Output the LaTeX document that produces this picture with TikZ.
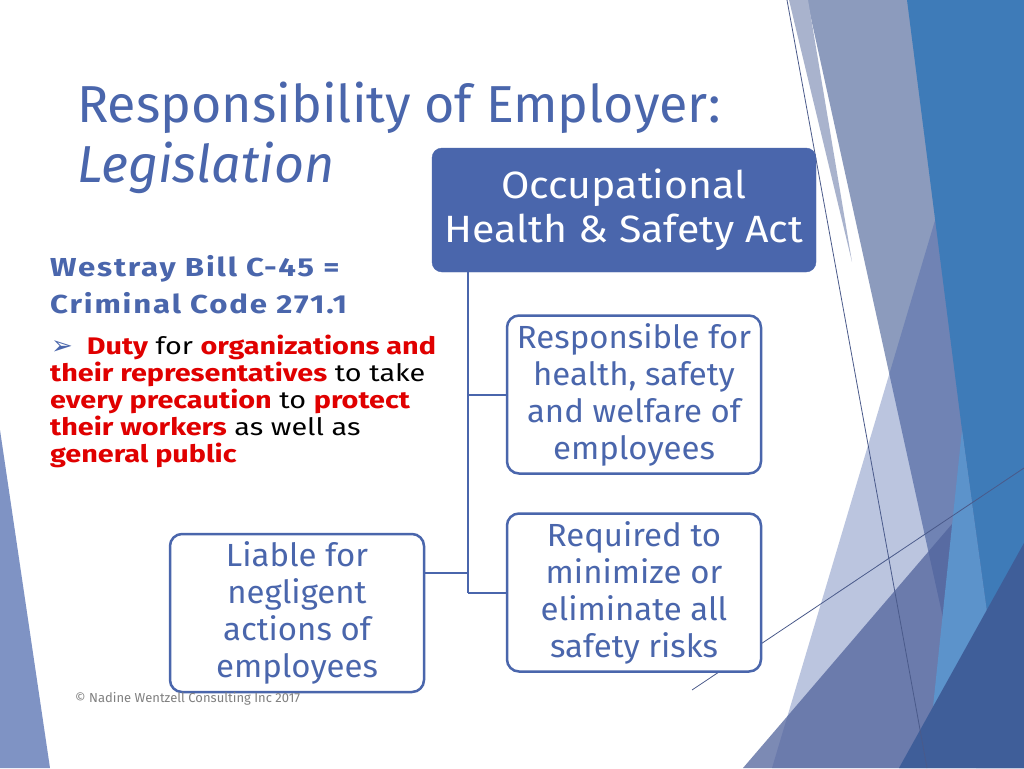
\documentclass[tikz,border=0pt]{standalone}
\usepackage{fontspec}
\setmainfont{Fira Sans}
\newfontfamily\symfont{DejaVu Sans}
\newfontfamily\wfont{Fira Sans}[FakeStretch=1.2, LetterSpace=7]
\newfontfamily\bulfont{Fira Sans}[FakeStretch=1.2]
\newfontfamily\ohsfont{Fira Sans}[FakeStretch=1.08]
\newfontfamily\boxfont{Fira Sans}[FakeStretch=1.03]
\definecolor{tblue}{HTML}{4A66AC}
\definecolor{tred}{HTML}{E00000}
\definecolor{gband}{HTML}{8C9BBD}
\definecolor{gstrip}{HTML}{A9B3CD}
\definecolor{tri}{RGB}{58,87,164}
\definecolor{dslate}{HTML}{51639C}
\definecolor{bblue}{HTML}{3E7BB8}
\definecolor{lband}{HTML}{5C93CB}
\definecolor{navy}{HTML}{3F5E99}
\definecolor{wedge}{HTML}{7F93C4}
\definecolor{thin}{HTML}{4A5A8A}
\definecolor{cgray}{HTML}{808080}
\tikzset{
  ohsbox/.style={draw=tblue, fill=tblue, rounded corners=10pt, minimum width=384pt, minimum height=124pt, text=white, align=center, font=\ohsfont\fontsize{38}{44}\selectfont, inner sep=0pt},
  itembox/.style={draw=tblue, line width=2.5pt, fill=white, rounded corners=12pt, minimum width=254pt, minimum height=158pt, text=tblue, align=center, font=\boxfont\fontsize{32}{37}\selectfont, inner sep=0pt},
  conn/.style={draw=tblue, line width=2pt},
  thinline/.style={draw=thin, line width=0.8pt},
  bline/.style={anchor=base west, font=\bulfont\fontsize{24}{27}\selectfont, inner sep=0pt},
  wline/.style={anchor=base west, inner sep=0pt, text=tblue, font=\wfont\fontsize{26}{37}\selectfont\bfseries},
  ttl/.style={anchor=base west, inner sep=0pt, text=tblue, font=\fontsize{52}{60}\selectfont}
}
\begin{document}
\begin{tikzpicture}[x=1pt,y=-1pt]
\useasboundingbox (0,0) rectangle (1024,768);
\fill[white] (0,0) rectangle (1024,768);
% background facets
\fill[wedge] (0,430) -- (50,768) -- (0,768) -- cycle;
\fill[gband] (807,0) -- (1024,0) -- (1024,768) -- (976,768) -- cycle;
\fill[gstrip] (789,0) -- (808,0) -- (852,262) -- cycle;
\fill[tri, fill opacity=0.34] (772,768) -- (950,170) -- (1024,170) -- (1024,768) -- cycle;
\fill[dslate, fill opacity=0.75] (743,768) -- (1024,440) -- (1024,768) -- cycle;
\fill[bblue] (907,0) -- (1024,0) -- (1024,545) -- (987,612) -- (962,430) -- cycle;
\fill[lband] (962,430) -- (987,612) -- (933,707) -- cycle;
\fill[navy] (1024,543) -- (1024,768) -- (899,768) -- cycle;
\coordinate (l1a) at (787,0); \coordinate (l1b) at (927,768);
\coordinate (l2a) at (692,690); \coordinate (l2b) at (1024,468);
\draw[thinline] (l1a) -- (l1b);
\draw[thinline] (l2a) -- (l2b);

% title
\node[ttl] (title) at (77,122) {Responsibility of Employer:};
\node[ttl, font=\fontsize{52}{60}\selectfont\itshape] (subtitle) at (77,182) {Legislation};

% left text
\node[wline] (w1) at (50,276) {Westray Bill C-45 =};
\node[wline] (w2) at (50,313) {Criminal Code 271.1};

\node[bline] (b1) at (51,354) {{\symfont\color{tblue}\fontsize{26}{27}\selectfont ➢}\hspace{14pt}\textbf{\color{tred}Duty} for \textbf{\color{tred}organizations and}};
\node[bline] (b2) at (50,381) {\textbf{\color{tred}their representatives} to take};
\node[bline] (b3) at (50,408) {\textbf{\color{tred}every precaution} to \textbf{\color{tred}protect}};
\node[bline] (b4) at (50,435) {\textbf{\color{tred}their workers} as well as};
\node[bline] (b5) at (50,462) {\textbf{\color{tred}general public}};

% boxes
\node[ohsbox] (ohs) at (624,210) {Occupational\\Health \& Safety Act};
\node[itembox] (resp) at (634,394.5) {Responsible for\\health, safety\\and welfare of\\employees};
\node[itembox] (req) at (634,592.5) {Required to\\minimize or\\eliminate all\\safety risks};
\node[itembox] (liable) at (297,613) {Liable for\\negligent\\actions of\\employees};

% connectors
\coordinate (jtop) at (468,272);
\coordinate (jbot) at (468,592.5);
\coordinate (jlia) at (468,573);
\draw[conn] (jtop) -- (jbot);
\draw[conn] (jtop |- resp.west) -- (resp.west);
\draw[conn] (jbot) -- (req.west);
\draw[conn] (liable.east |- jlia) -- (jlia);

% copyright
\node[anchor=base west, inner sep=0pt, text=cgray, font=\fontsize{13}{15}\selectfont] (copy) at (75,702) {© Nadine Wentzell Consulting Inc 2017};
\end{tikzpicture}
\end{document}
